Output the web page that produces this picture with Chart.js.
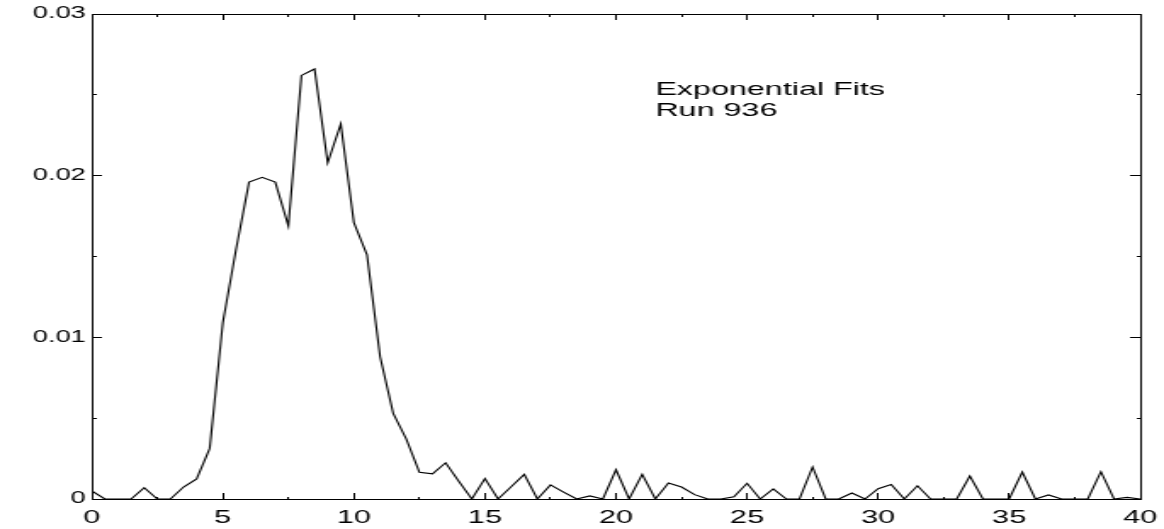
<!DOCTYPE html>
<html>
<head>
<meta charset="utf-8">
<script src="https://cdn.jsdelivr.net/npm/chart.js@4"></script>
<style>
  html, body { margin: 0; padding: 0; background: #fff; }
</style>
</head>
<body>
<!-- the original plot is stretched sideways, so the canvas is drawn narrow and widened -->
<canvas id="plot" width="685" height="529" style="width:1164px;height:529px;display:block"></canvas>
<script>
// ---- data ----
const binCenters = [
  0, 0.5, 1, 1.5, 2, 2.5, 3, 3.5, 4, 4.5,
  5, 5.5, 6, 6.5, 7, 7.5, 8, 8.5, 9, 9.5,
  10, 10.5, 11, 11.5, 12, 12.5, 13, 13.5, 14, 14.5,
  15, 15.5, 16, 16.5, 17, 17.5, 18, 18.5, 19, 19.5,
  20, 20.5, 21, 21.5, 22, 22.5, 23, 23.5, 24, 24.5,
  25, 25.5, 26, 26.5, 27, 27.5, 28, 28.5, 29, 29.5,
  30, 30.5, 31, 31.5, 32, 32.5, 33, 33.5, 34, 34.5,
  35, 35.5, 36, 36.5, 37, 37.5, 38, 38.5, 39, 39.5, 40
];
const fraction = [
  0.0005, 0, 0, 0, 0.0007, 0, 0, 0.00074, 0.00124, 0.00313,
  0.0109, 0.0154, 0.0196, 0.0199, 0.0196, 0.0169, 0.0262, 0.0266, 0.0208, 0.0232,
  0.0171, 0.0151, 0.0088, 0.0053, 0.0037, 0.00165, 0.00156, 0.00224, 0.0011, 0,
  0.00126, 0, 0.00076, 0.00152, 0, 0.00087, 0.00043, 0, 0.00019, 0,
  0.00181, 0, 0.00152, 0, 0.00099, 0.00074, 0.00027, 0, 0, 0.00014,
  0.00097, 0, 0.00063, 0, 0, 0.00198, 0, 0, 0.00037, 0,
  0.00064, 0.00089, 0, 0.00082, 0, 0, 0, 0.00142, 0, 0,
  0, 0.00167, 0, 0.00025, 0, 0, 0, 0.00169, 0, 0.0001, 0
];
const xTickLabels = ['0', '5', '10', '15', '20', '25', '30', '35', '40'];
const yTickLabels = ['0', '0.01', '0.02', '0.03'];
const noteLines = ['Exponential Fits', 'Run 936'];

const X_MIN = 0, X_MAX = 40, X_STEP = 2.5, X_MAJOR = 5;
const Y_MIN = 0, Y_MAX = 0.03, Y_STEP = 0.005, Y_MAJOR = 0.01;

Chart.defaults.font.family = '"Liberation Sans", Arial, Helvetica, sans-serif';
Chart.defaults.color = '#000';

function isMajor(v, step) {
    const r = v / step;
    return Math.abs(r - Math.round(r)) < 1e-6;
}

// ticks point inwards; minor ones only half as long
// (dash pattern is measured from where Chart.js starts the tick line)
function tickDash(step, fromAxis) {
    return ctx => {
        if (!ctx.tick || isMajor(ctx.tick.value, step)) return [];
        return fromAxis ? [3, 100] : [0, 3, 3, 100];
    };
}

function axisGrid(step, fromAxis) {
    return {
        drawOnChartArea: false,
        drawTicks: true,
        tickLength: -6,
        tickColor: '#000',
        tickWidth: 1,
        tickBorderDash: tickDash(step, fromAxis)
    };
}

const border = { display: true, color: '#000', width: 1 };

function noPad(s) {
    s.paddingTop = 0; s.paddingBottom = 0;
    s.paddingLeft = 0; s.paddingRight = 0;
}

// ---- note in the upper right ----
const notePlugin = {
    id: 'note',
    afterDatasetsDraw(chart) {
        const { ctx, scales } = chart;
        const x = scales.x.getPixelForValue(21.5);
        const y = scales.y.getPixelForValue(0.02501);
        ctx.save();
        ctx.fillStyle = '#000';
        ctx.font = '19px "Liberation Sans", Arial, sans-serif';
        ctx.textAlign = 'left';
        ctx.textBaseline = 'alphabetic';
        noteLines.forEach((t, i) => ctx.fillText(t, x, y + i * 21.7));
        ctx.restore();
    }
};

new Chart(document.getElementById('plot'), {
    type: 'line',
    data: {
        datasets: [{
            data: binCenters.map((x, i) => ({ x: x, y: fraction[i] })),
            borderColor: '#000',
            borderWidth: 1.1,
            pointRadius: 0,
            tension: 0,
            fill: false
        }]
    },
    options: {
        responsive: false,
        animation: false,
        devicePixelRatio: 1,
        layout: { padding: { left: 0, top: 14, right: 14, bottom: 0 } },
        plugins: { legend: { display: false }, tooltip: { enabled: false } },
        scales: {
            x: {
                type: 'linear', position: 'bottom',
                min: X_MIN, max: X_MAX,
                ticks: {
                    stepSize: X_STEP, autoSkip: false, maxRotation: 0,
                    padding: 14, font: { size: 18 },
                    callback: v => isMajor(v, X_MAJOR) ? xTickLabels[Math.round(v / X_MAJOR)] : ''
                },
                grid: axisGrid(X_MAJOR, true),
                border: border,
                afterFit: s => { s.height = 30; noPad(s); }
            },
            xTop: {
                type: 'linear', position: 'top',
                min: X_MIN, max: X_MAX,
                ticks: { stepSize: X_STEP, display: false },
                grid: axisGrid(X_MAJOR, false),
                border: border,
                afterFit: s => { s.height = 0; noPad(s); }
            },
            y: {
                type: 'linear', position: 'left',
                min: Y_MIN, max: Y_MAX,
                ticks: {
                    stepSize: Y_STEP, autoSkip: false,
                    padding: 9.5, font: { size: 16 },
                    callback: v => isMajor(v, Y_MAJOR) ? yTickLabels[Math.round(v / Y_MAJOR)] : ''
                },
                grid: axisGrid(Y_MAJOR, false),
                border: border,
                afterFit: s => { s.width = 54; noPad(s); }
            },
            yRight: {
                type: 'linear', position: 'right',
                min: Y_MIN, max: Y_MAX,
                ticks: { stepSize: Y_STEP, display: false },
                grid: axisGrid(Y_MAJOR, true),
                border: border,
                afterFit: s => { s.width = 0; noPad(s); }
            }
        }
    },
    plugins: [notePlugin]
});
</script>
</body>
</html>
